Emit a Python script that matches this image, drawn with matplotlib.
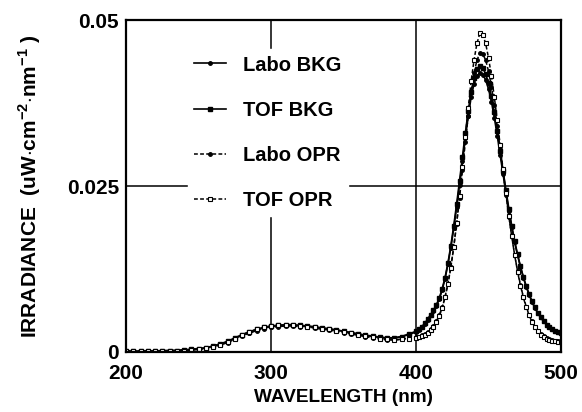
import matplotlib
matplotlib.use('Agg')
import matplotlib.pyplot as plt

plt.rcParams['font.family'] = ['Liberation Sans', 'DejaVu Sans']
plt.rcParams['font.weight'] = 'bold'
plt.rcParams['axes.labelweight'] = 'bold'
plt.rcParams['mathtext.fontset'] = 'custom'
plt.rcParams['mathtext.rm'] = 'Liberation Sans:bold'
plt.rcParams['mathtext.bf'] = 'Liberation Sans:bold'

# wavelength grid (nm): 5 nm steps below 400, 2 nm steps above
wavelength = [200, 205, 210, 215, 220, 225, 230, 235, 240, 245,
              250, 255, 260, 265, 270, 275, 280, 285, 290, 295,
              300, 305, 310, 315, 320, 325, 330, 335, 340, 345,
              350, 355, 360, 365, 370, 375, 380, 385, 390, 395,
              400, 402, 404, 406, 408, 410, 412, 414, 416, 418,
              420, 422, 424, 426, 428, 430, 432, 434, 436, 438,
              440, 442, 444, 446, 448, 450, 452, 454, 456, 458,
              460, 462, 464, 466, 468, 470, 472, 474, 476, 478,
              480, 482, 484, 486, 488, 490, 492, 494, 496, 498, 500]

labo_bkg = [0.0001, 0.0001, 0.0001, 0.0001, 0.0001, 0.0001, 0.0002, 0.0002, 0.0003, 0.0003,
            0.0004, 0.0006, 0.0008, 0.0011, 0.0015, 0.0020, 0.0025, 0.0029, 0.0033, 0.0036,
            0.0038, 0.0039, 0.0040, 0.0040, 0.0039, 0.0038, 0.0037, 0.0036, 0.0034, 0.0033,
            0.0031, 0.0029, 0.0027, 0.0025, 0.0023, 0.0022, 0.0021, 0.0021, 0.0023, 0.0026,
            0.0030, 0.0033, 0.0037, 0.0042, 0.0048, 0.0055, 0.0062, 0.0069, 0.0079, 0.0093,
            0.0110, 0.0132, 0.0157, 0.0186, 0.0218, 0.0252, 0.0287, 0.0322, 0.0355, 0.0384,
            0.0404, 0.0416, 0.0421, 0.0418, 0.0410, 0.0396, 0.0377, 0.0353, 0.0326, 0.0297,
            0.0268, 0.0240, 0.0213, 0.0188, 0.0165, 0.0146, 0.0128, 0.0112, 0.0098, 0.0086,
            0.0075, 0.0066, 0.0058, 0.0052, 0.0046, 0.0041, 0.0037, 0.0034, 0.0032, 0.0030, 0.0029]

tof_bkg = [0.0001, 0.0001, 0.0001, 0.0001, 0.0001, 0.0002, 0.0002, 0.0002, 0.0003, 0.0004,
           0.0005, 0.0006, 0.0009, 0.0012, 0.0016, 0.0021, 0.0026, 0.0030, 0.0034, 0.0037,
           0.0039, 0.0040, 0.0041, 0.0041, 0.0040, 0.0039, 0.0038, 0.0036, 0.0035, 0.0033,
           0.0031, 0.0029, 0.0027, 0.0025, 0.0024, 0.0022, 0.0021, 0.0021, 0.0023, 0.0027,
           0.0031, 0.0034, 0.0038, 0.0043, 0.0049, 0.0056, 0.0063, 0.0071, 0.0081, 0.0095,
           0.0112, 0.0134, 0.0160, 0.0190, 0.0223, 0.0258, 0.0294, 0.0330, 0.0363, 0.0392,
           0.0413, 0.0426, 0.0431, 0.0428, 0.0419, 0.0405, 0.0385, 0.0361, 0.0333, 0.0303,
           0.0273, 0.0244, 0.0216, 0.0190, 0.0167, 0.0147, 0.0129, 0.0113, 0.0099, 0.0087,
           0.0076, 0.0067, 0.0059, 0.0052, 0.0046, 0.0041, 0.0037, 0.0034, 0.0032, 0.0030, 0.0029]

labo_opr = [0.0001, 0.0001, 0.0001, 0.0001, 0.0001, 0.0001, 0.0001, 0.0002, 0.0002, 0.0003,
            0.0004, 0.0005, 0.0007, 0.0010, 0.0014, 0.0019, 0.0024, 0.0028, 0.0032, 0.0035,
            0.0037, 0.0038, 0.0039, 0.0039, 0.0038, 0.0037, 0.0036, 0.0034, 0.0033, 0.0031,
            0.0029, 0.0027, 0.0025, 0.0023, 0.0021, 0.0019, 0.0018, 0.0018, 0.0019, 0.0021,
            0.0022, 0.0023, 0.0025, 0.0027, 0.0030, 0.0034, 0.0039, 0.0046, 0.0055, 0.0067,
            0.0083, 0.0103, 0.0128, 0.0158, 0.0193, 0.0232, 0.0274, 0.0316, 0.0356, 0.0392,
            0.0420, 0.0440, 0.0450, 0.0449, 0.0440, 0.0423, 0.0400, 0.0372, 0.0340, 0.0306,
            0.0271, 0.0237, 0.0204, 0.0174, 0.0146, 0.0122, 0.0101, 0.0083, 0.0068, 0.0056,
            0.0046, 0.0038, 0.0032, 0.0027, 0.0024, 0.0021, 0.0019, 0.0018, 0.0017, 0.0016, 0.0016]

tof_opr = [0.0001, 0.0001, 0.0001, 0.0001, 0.0001, 0.0001, 0.0002, 0.0002, 0.0002, 0.0003,
           0.0004, 0.0006, 0.0008, 0.0011, 0.0015, 0.0020, 0.0026, 0.0030, 0.0034, 0.0037,
           0.0039, 0.0040, 0.0040, 0.0040, 0.0039, 0.0038, 0.0037, 0.0035, 0.0034, 0.0032,
           0.0030, 0.0028, 0.0026, 0.0024, 0.0022, 0.0020, 0.0019, 0.0018, 0.0019, 0.0020,
           0.0021, 0.0022, 0.0024, 0.0026, 0.0029, 0.0033, 0.0038, 0.0045, 0.0054, 0.0066,
           0.0082, 0.0102, 0.0127, 0.0158, 0.0194, 0.0235, 0.0279, 0.0324, 0.0368, 0.0408,
           0.0440, 0.0465, 0.0480, 0.0478, 0.0465, 0.0443, 0.0416, 0.0384, 0.0349, 0.0312,
           0.0275, 0.0239, 0.0205, 0.0174, 0.0146, 0.0121, 0.0100, 0.0082, 0.0067, 0.0055,
           0.0045, 0.0037, 0.0031, 0.0026, 0.0023, 0.0020, 0.0018, 0.0017, 0.0016, 0.0015, 0.0015]

labels = ['Labo BKG', 'TOF BKG', 'Labo OPR', 'TOF OPR']
x_ticks = [200, 300, 400, 500]
y_ticks = [0, 0.025, 0.05]
y_ticklabels = ['0', '0.025', '0.05']

fig = plt.figure(figsize=(5.82, 4.12), dpi=100)
ax = fig.add_axes([0.2165, 0.146, 0.7475, 0.805])

# crosshair grid lines
for gx in [300, 400]:
    ax.axvline(gx, color='black', lw=1.1, zorder=0)
ax.axhline(0.025, color='black', lw=1.1, zorder=0)

dash = (0, (2.5, 1.5))
ax.plot(wavelength, labo_bkg, color='black', ls='-', lw=1.2, marker='o', ms=2.5,
        label=labels[0])
ax.plot(wavelength, tof_bkg, color='black', ls='-', lw=1.2, marker='s', ms=2.5,
        label=labels[1])
ax.plot(wavelength, labo_opr, color='black', ls=dash, lw=1.1, marker='o', ms=2.5,
        label=labels[2])
ax.plot(wavelength, tof_opr, color='black', ls=dash, lw=1.1, marker='s', ms=3.2,
        mfc='white', mew=0.8, label=labels[3])

ax.set_xlim(200, 500)
ax.set_ylim(0, 0.05)
ax.set_xticks(x_ticks)
ax.set_yticks(y_ticks)
ax.set_yticklabels(y_ticklabels)
ax.tick_params(length=0, labelsize=15)
ax.tick_params(axis='x', pad=9)
ax.tick_params(axis='y', pad=5)
for s in ax.spines.values():
    s.set_linewidth(1.6)

ax.set_xlabel('WAVELENGTH (nm)', fontsize=13.7, labelpad=4)
ax.set_ylabel(r'IRRADIANCE  (uW$\cdot$cm$^{-2}$$\cdot$nm$^{-1}$ )', fontsize=15, labelpad=17)

leg = ax.legend(loc='upper left', bbox_to_anchor=(0.119, 0.942), fontsize=14.5,
                frameon=True, framealpha=1, edgecolor='white', facecolor='white',
                labelspacing=1.3, handlelength=1.6, handletextpad=0.85,
                borderpad=0.3, fancybox=False, numpoints=1)

fig.savefig('out.png', dpi=100)
